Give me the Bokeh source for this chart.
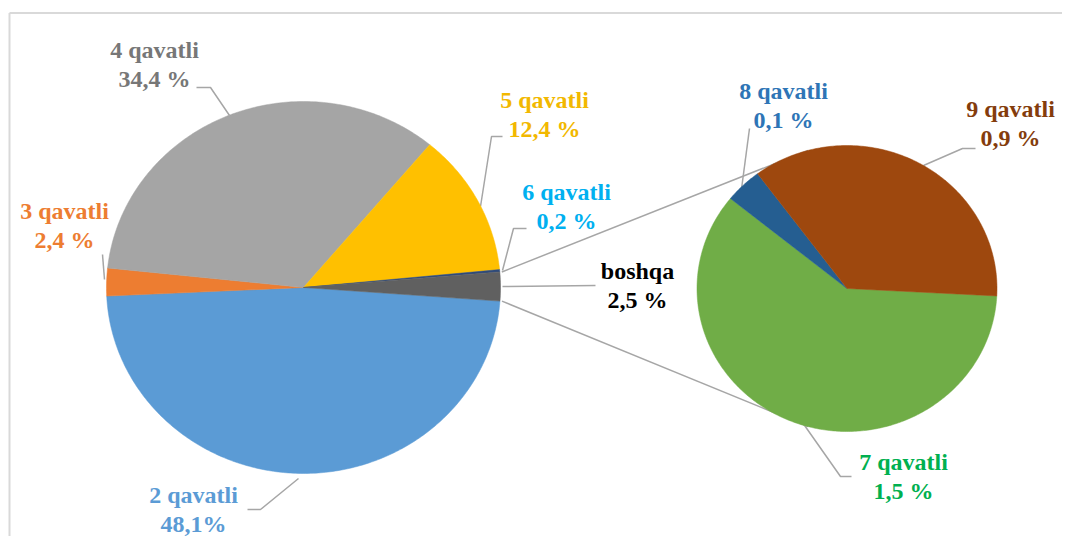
import numpy as np
from bokeh.plotting import figure
from bokeh.models import Range1d, ColumnDataSource
from bokeh.embed import file_html
from bokeh.resources import INLINE
from bokeh.core.properties import value

# ---------------- data ----------------
main_labels = ["2 qavatli", "3 qavatli", "4 qavatli", "5 qavatli", "6 qavatli", "boshqa"]
main_values = [48.1, 2.4, 34.4, 12.4, 0.2, 2.5]
main_pct_text = ["48,1%", "2,4 %", "34,4 %", "12,4 %", "0,2 %", "2,5 %"]

sub_labels = ["7 qavatli", "8 qavatli", "9 qavatli"]
sub_values = [1.5, 0.1, 0.9]
sub_pct_text = ["1,5 %", "0,1 %", "0,9 %"]

# ---------------- styles ----------------
main_colors = ["#5B9BD5", "#ED7D31", "#A5A5A5", "#FFC000", "#2F4A7A", "#606060"]
main_text_colors = ["#5B9BD5", "#ED7D31", "#777777", "#F2B800", "#00B0F0", "#000000"]
sub_colors = ["#70AD47", "#255E91", "#9E480E"]
sub_text_colors = ["#00B050", "#2E75B6", "#843C0C"]

H = 552  # reference image height (for converting top-down layout coords)

def up(y):
    return H - y

# layout (image coords, top-down)
MAIN_C = (303, 287); MAIN_R = (197, 186); MAIN_START = -4.2
SUB_C = (846.5, 288); SUB_R = (150, 143); SUB_START = 357.0
CONNECT_ANGLES = (105.0, 255.0)  # where connector lines meet the secondary pie

main_label_pos = [(193, 509), (64, 225), (154, 64), (544, 114), (566, 206), (637, 285)]
sub_label_pos = [(903, 476), (783, 105), (1010, 123)]

main_leaders = [
    [(298, 478), (260, 509), (247, 509)],
    [(104, 279), (102, 254)],
    [(229, 115), (210, 87), (196, 87)],
    [(480, 206), (491, 136), (502, 136)],
    [(502, 270), (513, 228), (526, 228)],
    [(502, 286), (595, 285)],
]
sub_leaders = [
    [(802, 422), (840, 476), (851, 476)],
    [(740, 196), (749, 128)],
    [(923, 165), (962, 148), (975, 148)],
]


def slices(center, radii, values, start_deg):
    cx, cy = center[0], up(center[1])
    rx, ry = radii
    vals = np.asarray(values, dtype=float)
    cum = np.concatenate([[0.0], np.cumsum(vals)]) / vals.sum()
    xs, ys, edges = [], [], []
    for i in range(len(vals)):
        a0 = np.radians(start_deg - cum[i] * 360.0)
        a1 = np.radians(start_deg - cum[i + 1] * 360.0)
        n = max(int(abs(a1 - a0) * 80), 6)
        t = np.linspace(a0, a1, n)
        xs.append(np.concatenate([[cx], cx + rx * np.cos(t)]).tolist())
        ys.append(np.concatenate([[cy], cy + ry * np.sin(t)]).tolist())
        edges.append((a0, a1))
    return xs, ys, edges


p = figure(width=1062, height=536, x_range=Range1d(0, 1062), y_range=Range1d(16, 552),
           output_backend="svg", toolbar_location=None, min_border=0)
p.axis.visible = False
p.grid.visible = False
p.outline_line_color = None
p.background_fill_color = "white"
p.border_fill_color = "white"

# chart frame (top and left edges visible)
p.line([9, 1062], [up(12.5), up(12.5)], line_color="#D9D9D9", line_width=2)
p.line([9, 9], [16, up(12.5)], line_color="#D9D9D9", line_width=2)

mx, my, medges = slices(MAIN_C, MAIN_R, main_values, MAIN_START)
sx, sy, _ = slices(SUB_C, SUB_R, sub_values, SUB_START)

# connector lines from "boshqa" slice to secondary pie
b0, b1 = medges[-1]
cxm, cym = MAIN_C[0], up(MAIN_C[1])
cxs, cys = SUB_C[0], up(SUB_C[1])
top_pt = (cxm + MAIN_R[0] * np.cos(b0) + 2, cym + MAIN_R[1] * np.sin(b0))
bot_pt = (cxm + MAIN_R[0] * np.cos(b1) + 2, cym + MAIN_R[1] * np.sin(b1))
ta, ba = np.radians(CONNECT_ANGLES[0]), np.radians(CONNECT_ANGLES[1])
sub_top = (cxs + SUB_R[0] * np.cos(ta), cys + SUB_R[1] * np.sin(ta))
sub_bot = (cxs + SUB_R[0] * np.cos(ba), cys + SUB_R[1] * np.sin(ba))
p.multi_line(xs=[[top_pt[0], sub_top[0]], [bot_pt[0], sub_bot[0]]],
             ys=[[top_pt[1], sub_top[1]], [bot_pt[1], sub_bot[1]]],
             line_color="#A6A6A6", line_width=1.5)

# leader lines
lead = main_leaders + sub_leaders
p.multi_line(xs=[[q[0] for q in l] for l in lead], ys=[[up(q[1]) for q in l] for l in lead],
             line_color="#A6A6A6", line_width=1.5)

main_src = ColumnDataSource(dict(xs=mx, ys=my, color=main_colors, name=main_labels))
p.patches("xs", "ys", source=main_src, fill_color="color", line_color="color", line_width=0.5)
sub_src = ColumnDataSource(dict(xs=sx, ys=sy, color=sub_colors, name=sub_labels))
p.patches("xs", "ys", source=sub_src, fill_color="color", line_color="color", line_width=0.5)

# labels
all_text = [f"{n}\n{t}" for n, t in zip(main_labels, main_pct_text)] + \
           [f"{n}\n{t}" for n, t in zip(sub_labels, sub_pct_text)]
all_pos = main_label_pos + sub_label_pos
lab_src = ColumnDataSource(dict(x=[q[0] for q in all_pos], y=[up(q[1]) for q in all_pos],
                                text=all_text, color=main_text_colors + sub_text_colors))
p.text("x", "y", text="text", source=lab_src, text_color="color",
       text_align="center", text_baseline="middle",
       text_font=value("Times"), text_font_style="bold",
       text_font_size="24px", text_line_height=1.12)

open("out.html", "w").write(file_html(p, INLINE))
